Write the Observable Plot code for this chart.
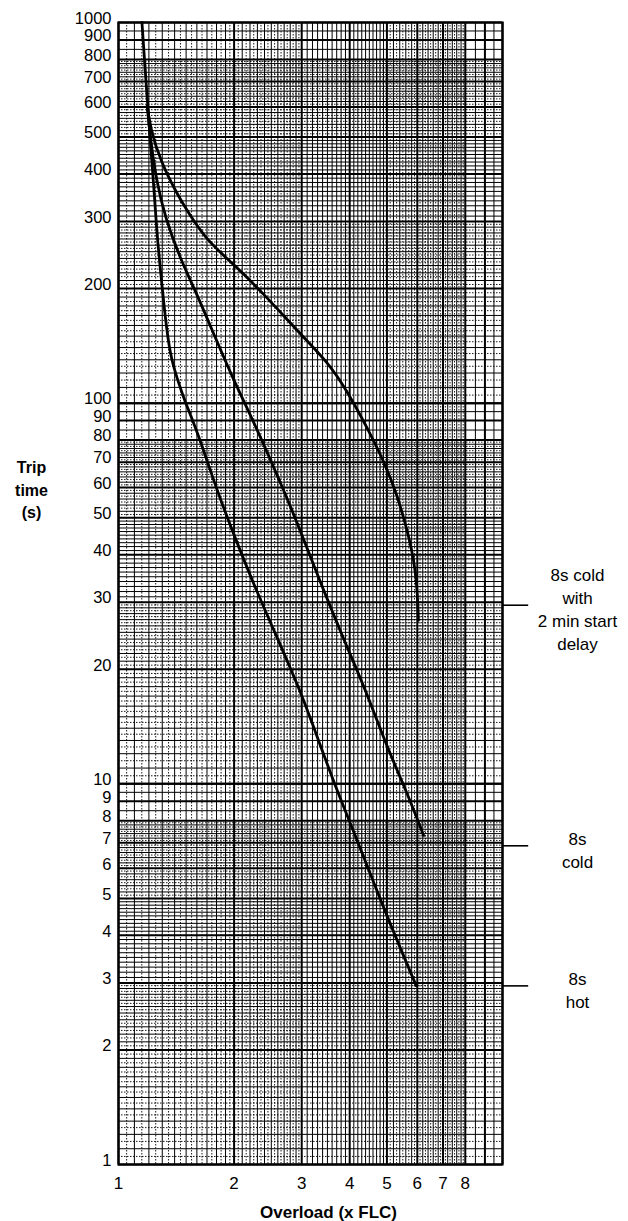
<!DOCTYPE html>
<html>
<head>
<meta charset="utf-8">
<script src="https://cdn.jsdelivr.net/npm/d3@7"></script>
<script src="https://cdn.jsdelivr.net/npm/@observablehq/plot@0.6"></script>
<style>
  html, body { margin: 0; padding: 0; background: #fff; }
  #chart svg { display: block; }
</style>
</head>
<body>
<div id="chart"></div>
<script>
// ---- Data ----
const xTicks = [1, 2, 3, 4, 5, 6, 7, 8];
const yTicks = [1, 2, 3, 4, 5, 6, 7, 8, 9, 10, 20, 30, 40, 50, 60, 70, 80, 90, 100,
                200, 300, 400, 500, 600, 700, 800, 900, 1000];

// 8s hot curve
const hotX = [1.151, 1.174, 1.197, 1.229, 1.259, 1.284, 1.323, 1.364, 1.422, 1.483, 1.601, 1.804, 1.993, 2.247, 2.585, 2.973, 3.318, 3.706, 4.012, 5.0, 5.96];
const hotY = [1000, 748, 563, 401, 279, 227, 168, 133, 116, 102, 84.8, 59, 45.4, 33.5, 24.3, 17.6, 13.0, 9.6, 7.92, 4.48, 2.95];

// 8s cold curve
const coldX = [1.188, 1.206, 1.254, 1.323, 1.447, 1.584, 1.775, 1.993, 2.293, 2.745, 2.973, 3.42, 3.934, 4.436, 5.0, 5.64, 6.23];
const coldY = [605, 511, 385, 307, 240, 198, 151, 115, 85.9, 56.5, 46.3, 32.2, 22.9, 17.3, 12.5, 9.49, 7.32];

// 8s cold with 2 min start delay curve
const delayX = [1.188, 1.209, 1.284, 1.419, 1.51, 1.699, 1.993, 2.386, 2.973, 3.489, 3.934, 4.436, 4.9, 5.31, 5.75, 5.98, 6.04];
const delayY = [605, 530, 434, 355, 320, 267, 232, 194, 152, 129, 108, 86.5, 70.7, 57.8, 43.6, 34.9, 26.9];

const noteY = [30, 7, 3];
const noteText = ["8s cold\nwith\n2 min start\ndelay", "8s\ncold", "8s\nhot"];

const xLabel = "Overload (x FLC)";
const yLabel = "Trip\ntime\n(s)";

// ---- Build tables ----
const toRows = (xs, ys, name) => xs.map((x, i) => ({x, y: ys[i], curve: name}));
const curves = [
  ...toRows(hotX, hotY, "hot"),
  ...toRows(coldX, coldY, "cold"),
  ...toRows(delayX, delayY, "delay")
];
const notes = noteY.map((y, i) => ({y, text: noteText[i]}));

// graph-paper grid (log-log paper rulings)
const r = v => Math.round(v * 10000) / 10000;
function rulings(decades, spec) {
  const out = [];
  for (const d of decades) {
    for (const [a, b, step, off] of spec) {
      for (let m = a + (off || 0); m < b - 1e-9; m += step) {
        if (!off && Math.abs(m - Math.round(m)) < 1e-9) continue;
        out.push(r(m * d));
      }
    }
  }
  return out;
}
const majorSpec = decades => decades.flatMap(d => d3.range(1, 11).map(m => m * d));
const solidSpec = [[1, 2, 0.1], [2, 5, 0.1], [5, 8, 0.2], [8, 10, 0.5]];
const dotSpec = [[1, 2, 0.1, 0.05], [2, 3, 0.1, 0.05], [5, 8, 0.2, 0.1]];

const xDec = [1], yDec = [1, 10, 100];
const xMajor = majorSpec(xDec), yMajor = majorSpec(yDec);
const xMinor = rulings(xDec, solidSpec), yMinor = rulings(yDec, solidSpec);
const xDot = rulings(xDec, dotSpec), yDot = rulings(yDec, dotSpec);

const font = "'Liberation Sans', Arial, Helvetica, sans-serif";

const chart = Plot.plot({
  width: 628,
  height: 1221,
  marginLeft: 118,
  marginRight: 126,
  marginTop: 22,
  marginBottom: 57,
  x: {type: "log", domain: [1, 10], axis: null},
  y: {type: "log", domain: [1, 1000], axis: null},
  style: {fontFamily: font, fontSize: "16px", color: "black", background: "white", overflow: "visible"},
  marks: [
    Plot.ruleX(xDot, {stroke: "#000", strokeWidth: 0.9, strokeDasharray: "1.5,1.5"}),
    Plot.ruleY(yDot, {stroke: "#000", strokeWidth: 0.9, strokeDasharray: "1.5,1.5"}),
    Plot.ruleX(xMinor, {stroke: "#000", strokeWidth: 1}),
    Plot.ruleY(yMinor, {stroke: "#000", strokeWidth: 1}),
    Plot.ruleX(xMajor, {stroke: "#000", strokeWidth: 2}),
    Plot.ruleY(yMajor, {stroke: "#000", strokeWidth: 2}),
    Plot.frame({stroke: "#000", strokeWidth: 2.2}),
    Plot.line(curves, {x: "x", y: "y", z: "curve", stroke: "#000", strokeWidth: 2.8, curve: "basis"}),
    Plot.text(xTicks, {x: d => d, text: d => String(d), frameAnchor: "bottom", dy: 19, fontSize: 17, lineAnchor: "middle"}),
    Plot.text(yTicks, {y: d => d, text: d => String(d), frameAnchor: "left", dx: -7, dy: -4, fontSize: 16.5, textAnchor: "end", lineAnchor: "middle"}),
    Plot.ruleY(notes, {y: "y", x1: 10, x2: 11.7, stroke: "#000", strokeWidth: 1.6, dy: 3}),
    Plot.text(notes, {y: "y", text: "text", frameAnchor: "right", dx: 75, dy: 6, fontSize: 17, lineHeight: 1.35, textAnchor: "middle", lineAnchor: "middle"}),
    Plot.text([xLabel], {text: d => d, frameAnchor: "bottom", dx: 18, dy: 48, fontSize: 17, fontWeight: "bold", textAnchor: "middle", lineAnchor: "middle"}),
    Plot.text([yLabel], {text: d => d, frameAnchor: "left", dx: -87, dy: -105, fontSize: 16, fontWeight: "bold", textAnchor: "middle", lineAnchor: "middle", lineHeight: 1.4})
  ]
});
document.getElementById("chart").appendChild(chart);
</script>
</body>
</html>
